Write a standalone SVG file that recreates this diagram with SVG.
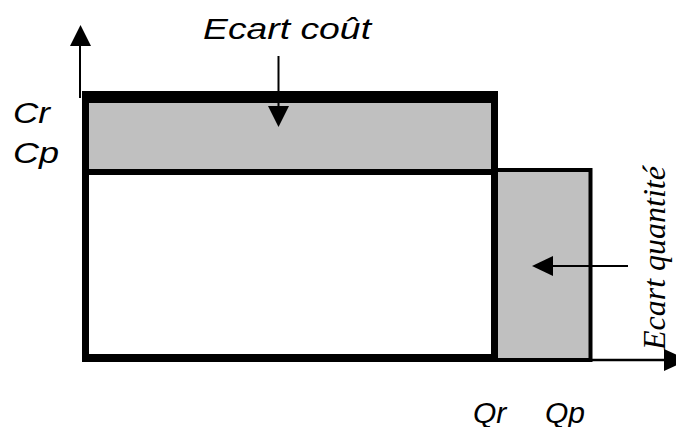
<svg xmlns="http://www.w3.org/2000/svg" width="676" height="427" viewBox="0 0 676 427">
<style>
.lbl{font-family:"Liberation Sans",Arial,sans-serif;font-style:italic;font-size:30px;fill:#000}
.lblv{font-family:"Liberation Serif","Times New Roman",serif;font-style:italic;font-size:32px;fill:#000}
.band{fill:#000}
.gray{fill:#c0c0c0}
.thin{stroke:#000;stroke-width:2;fill:none}
.head{fill:#000}
</style>
<rect width="676" height="427" fill="#fff"/>
<g id="ecart-quantite-zone">
<rect x="494" y="170" width="96.5" height="190" class="gray" stroke="#000" stroke-width="4"/>
</g>
<g id="ecart-cout-zone">
<rect x="86" y="100" width="408" height="71" class="gray"/>
</g>
<g id="main-rect">
<rect x="82" y="91" width="416" height="12" class="band"/>
<rect x="82" y="91" width="7" height="271" class="band"/>
<rect x="491" y="91" width="7" height="271" class="band"/>
<rect x="82" y="354" width="416" height="8" class="band"/>
<rect x="82" y="169" width="416" height="6" class="band"/>
</g>
<g id="connectors">
<line x1="80" y1="46" x2="80" y2="98" class="thin"/>
<polygon points="70,46 91,46 80.5,25" class="head"/>
<line x1="590" y1="360" x2="666" y2="360" stroke="#000" stroke-width="2.5"/>
<polygon points="664,349 688,360 664,371" class="head"/>
<line x1="278.5" y1="56" x2="278.5" y2="108" class="thin"/>
<polygon points="268,106 289,106 278.5,127" class="head"/>
<line x1="551" y1="266" x2="628" y2="266" class="thin"/>
<polygon points="553,256 553,276 532,266" class="head"/>
</g>
<g id="labels">
<text class="lbl" x="203" y="39" textLength="168" lengthAdjust="spacingAndGlyphs">Ecart coût</text>
<text class="lbl" x="13" y="123" textLength="37" lengthAdjust="spacingAndGlyphs">Cr</text>
<text class="lbl" x="13" y="163" textLength="46" lengthAdjust="spacingAndGlyphs">Cp</text>
<text class="lbl" x="473" y="423">Qr</text>
<text class="lbl" x="545" y="423">Qp</text>
<text class="lblv" transform="translate(665,350) rotate(-90)">Ecart quantité</text>
</g>
</svg>
